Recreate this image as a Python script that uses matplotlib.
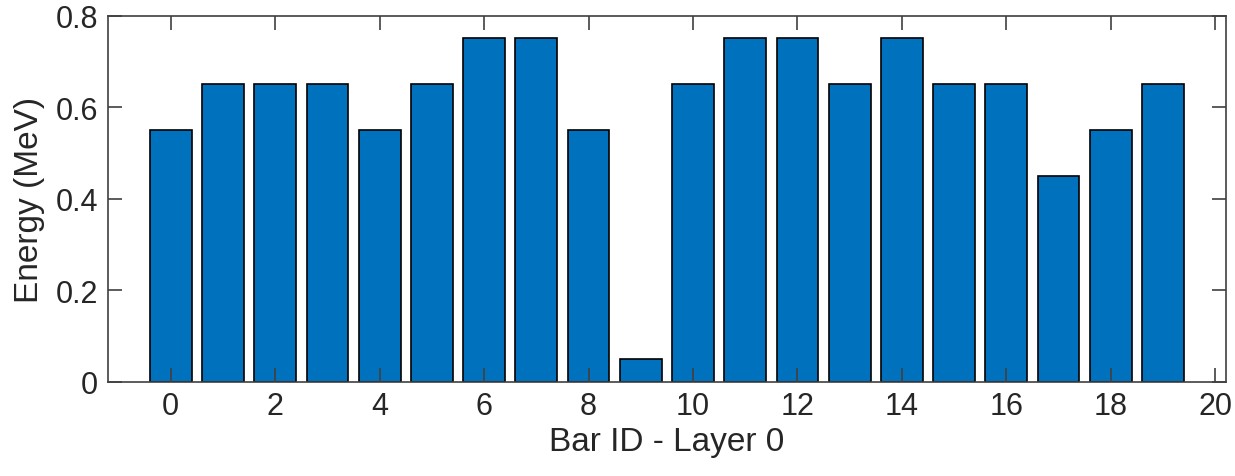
import matplotlib.pyplot as plt

bar_ids = list(range(20))
energy = [0.55, 0.65, 0.65, 0.65, 0.55, 0.65, 0.75, 0.75, 0.55, 0.05,
          0.65, 0.75, 0.75, 0.65, 0.75, 0.65, 0.65, 0.45, 0.55, 0.65]

plt.rcParams['font.family'] = ['Liberation Sans', 'DejaVu Sans']
axcol = '#404040'

fig = plt.figure(figsize=(12.35, 4.77), dpi=100)
ax = fig.add_axes([0.0875, 0.1977, 0.905, 0.7677])

ax.bar(bar_ids, energy, width=0.8, color='#0072BD', edgecolor='black', linewidth=1.2)

ax.set_xlim(-1.2, 20.2)
ax.set_ylim(0, 0.8)
ax.set_xticks(range(0, 21, 2))
ax.set_yticks([0, 0.2, 0.4, 0.6, 0.8])
ax.set_yticklabels(['0', '0.2', '0.4', '0.6', '0.8'])
ax.tick_params(direction='in', length=10, width=1.2, color=axcol, labelsize=22,
               labelcolor='#262626', top=True, right=True, pad=7)
for s in ax.spines.values():
    s.set_color(axcol)
    s.set_linewidth(1.2)

ax.set_xlabel('Bar ID - Layer 0', fontsize=24, color='#262626', labelpad=3)
ax.set_ylabel('Energy (MeV)', fontsize=24, color='#262626', labelpad=8)

fig.savefig('out.png', dpi=100)
